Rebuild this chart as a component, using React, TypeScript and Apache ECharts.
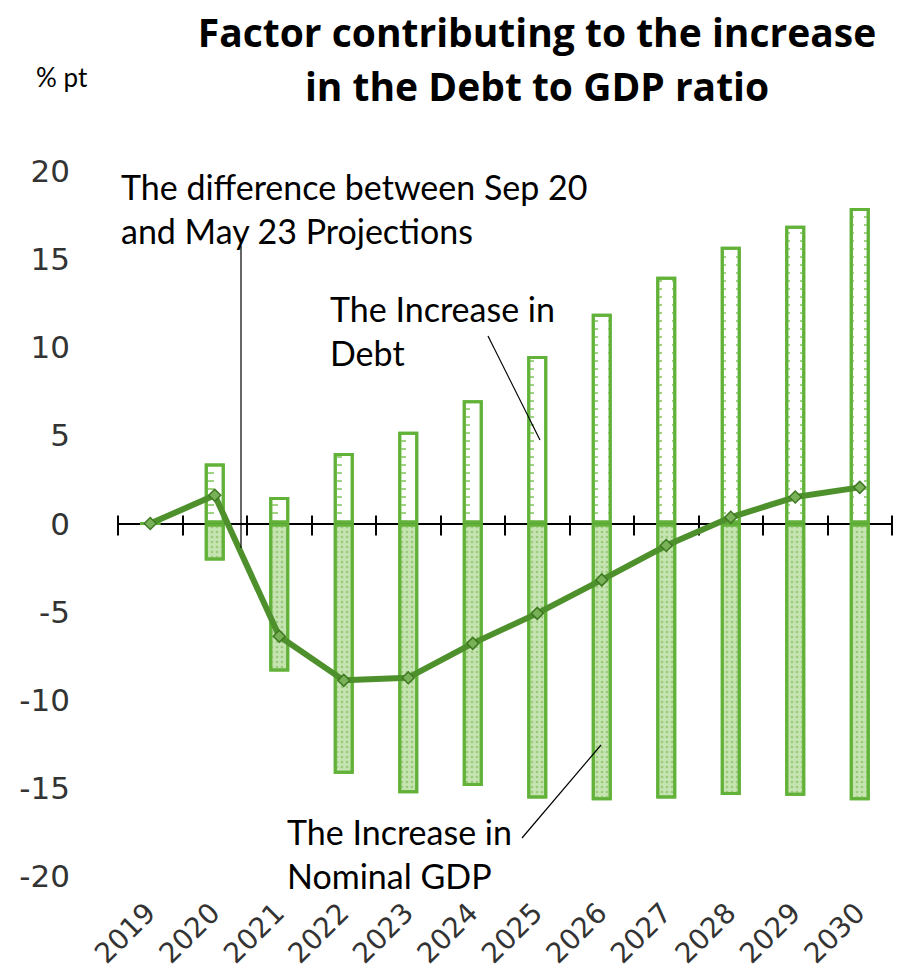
import React, { useEffect, useRef } from "react";
import * as echarts from "echarts";

const years = ["2019", "2020", "2021", "2022", "2023", "2024", "2025", "2026", "2027", "2028", "2029", "2030"];
const increaseInDebt = [0, 3.4, 1.5, 4.0, 5.2, 7.0, 9.5, 11.9, 14.0, 15.7, 16.9, 17.9];
const increaseInNominalGDP = [0, -2.1, -8.4, -14.2, -15.3, -14.9, -15.6, -15.7, -15.6, -15.4, -15.45, -15.7];
const differenceSep20May23 = [0, 1.6, -6.4, -8.9, -8.75, -6.8, -5.1, -3.2, -1.25, 0.35, 1.5, 2.05];

const titleLines = ["Factor contributing to the increase", "in the Debt to GDP ratio"];
const unitLabel = "% pt";
const noteDifference = "The difference between Sep 20\nand May 23 Projections";
const noteDebt = "The Increase in\nDebt";
const noteGDP = "The Increase in\nNominal GDP";

const BAR_GREEN = "#62b23a";
const LINE_GREEN = "#4e912c";
const NOTE_FONT = "Lato, 'Open Sans', sans-serif";
const TICK_FONT = "'DejaVu Sans', sans-serif";
const GRID = { left: 118, right: 7, top: 171, bottom: 94, containLabel: false, outerBoundsMode: "none" };

const hiddenY = (gridIndex: number) => ({
  type: "value",
  gridIndex,
  min: -20,
  max: 20,
  interval: 5,
  show: false,
});

export default function App() {
  const ref = useRef<HTMLDivElement>(null);
  useEffect(() => {
    const chart = echarts.init(ref.current!, null, { renderer: "svg" });
    chart.setOption({
      animation: false,
      backgroundColor: "#ffffff",
      grid: [{ ...GRID }, { ...GRID }, { ...GRID }],
      xAxis: [
        {
          type: "category",
          gridIndex: 0,
          data: years,
          position: "bottom",
          boundaryGap: true,
          axisLine: { show: false, onZero: false },
          axisTick: { show: false },
          axisLabel: {
            rotate: 45,
            margin: 32,
            fontSize: 28,
            color: "#333",
            fontFamily: TICK_FONT,
          },
          splitLine: { show: false },
        },
        {
          type: "category",
          gridIndex: 1,
          data: years,
          position: "bottom",
          boundaryGap: true,
          axisLine: { onZero: true, lineStyle: { color: "#000", width: 2 } },
          axisTick: { show: true, length: 12, lineStyle: { color: "#000", width: 2 } },
          axisLabel: { show: false },
          splitLine: { show: false },
        },
        {
          type: "category",
          gridIndex: 2,
          data: years,
          position: "bottom",
          boundaryGap: true,
          axisLine: { onZero: true, lineStyle: { color: "#000", width: 2 } },
          axisTick: { show: true, inside: true, length: 8, lineStyle: { color: "#000", width: 2 } },
          axisLabel: { show: false },
          splitLine: { show: false },
        },
      ],
      yAxis: [
        {
          type: "value",
          gridIndex: 0,
          min: -20,
          max: 20,
          interval: 5,
          axisLine: { show: false },
          axisTick: { show: false },
          splitLine: { show: false },
          axisLabel: {
            margin: 48,
            fontSize: 31,
            color: "#333",
            fontFamily: TICK_FONT,
          },
        },
        hiddenY(1),
        hiddenY(2),
      ],
      series: [
        {
          name: "The Increase in Debt",
          type: "bar",
          xAxisIndex: 0,
          yAxisIndex: 0,
          data: increaseInDebt,
          barWidth: 20,
          barGap: "-100%",
          itemStyle: {
            color: "#ffffff",
            borderColor: BAR_GREEN,
            borderWidth: 3,
            decal: {
              symbol: "rect",
              symbolSize: 1,
              color: "#9fd283",
              backgroundColor: "#ffffff",
              dashArrayX: [[6, 10]],
              dashArrayY: [2, 6],
              rotation: 0,
            },
          },
          z: 2,
        },
        {
          name: "The Increase in Nominal GDP",
          type: "bar",
          xAxisIndex: 0,
          yAxisIndex: 0,
          data: increaseInNominalGDP,
          barWidth: 20,
          barGap: "-100%",
          itemStyle: {
            color: "#c6e3b2",
            borderColor: BAR_GREEN,
            borderWidth: 3,
            decal: {
              symbol: "diamond",
              symbolSize: 0.8,
              color: "#95c873",
              backgroundColor: "#e3f1d8",
              dashArrayX: [[4, 1]],
              dashArrayY: [4, 1],
              rotation: 0,
            },
          },
          z: 2,
        },
        {
          name: "The difference between Sep 20 and May 23 Projections",
          type: "line",
          xAxisIndex: 0,
          yAxisIndex: 0,
          data: differenceSep20May23,
          symbol: "diamond",
          symbolSize: 12,
          showSymbol: true,
          lineStyle: { color: LINE_GREEN, width: 6 },
          itemStyle: { color: "#79b158", borderColor: "#3f7a22", borderWidth: 1.5 },
          z: 5,
        },
      ],
      graphic: [
        {
          type: "text",
          x: 537,
          y: 4,
          style: {
            text: titleLines.join("\n"),
            font: "bold 39px 'Open Sans', sans-serif",
            fill: "#000",
            textAlign: "center",
            lineHeight: 54,
          },
        },
        {
          type: "text",
          x: 36,
          y: 64,
          style: { text: unitLabel, font: "26px " + NOTE_FONT, fill: "#000" },
        },
        {
          type: "text",
          x: 121,
          y: 164,
          style: { text: noteDifference, font: "34px " + NOTE_FONT, fill: "#000", lineHeight: 44 },
        },
        {
          type: "line",
          shape: { x1: 241, y1: 246, x2: 241, y2: 548 },
          style: { stroke: "#000", lineWidth: 1.2 },
          z: 10,
        },
        {
          type: "text",
          x: 330,
          y: 286,
          style: { text: noteDebt, font: "34px " + NOTE_FONT, fill: "#000", lineHeight: 44 },
        },
        {
          type: "line",
          shape: { x1: 488, y1: 336, x2: 540, y2: 440 },
          style: { stroke: "#000", lineWidth: 1.2 },
          z: 10,
        },
        {
          type: "text",
          x: 287,
          y: 809,
          style: { text: noteGDP, font: "34px " + NOTE_FONT, fill: "#000", lineHeight: 44 },
        },
        {
          type: "line",
          shape: { x1: 522, y1: 838, x2: 601, y2: 745 },
          style: { stroke: "#000", lineWidth: 1.2 },
          z: 10,
        },
      ],
    });
    return () => chart.dispose();
  }, []);
  return <div ref={ref} style={{ width: 899, height: 970, position: "absolute", left: 0, top: 0 }} />;
}
